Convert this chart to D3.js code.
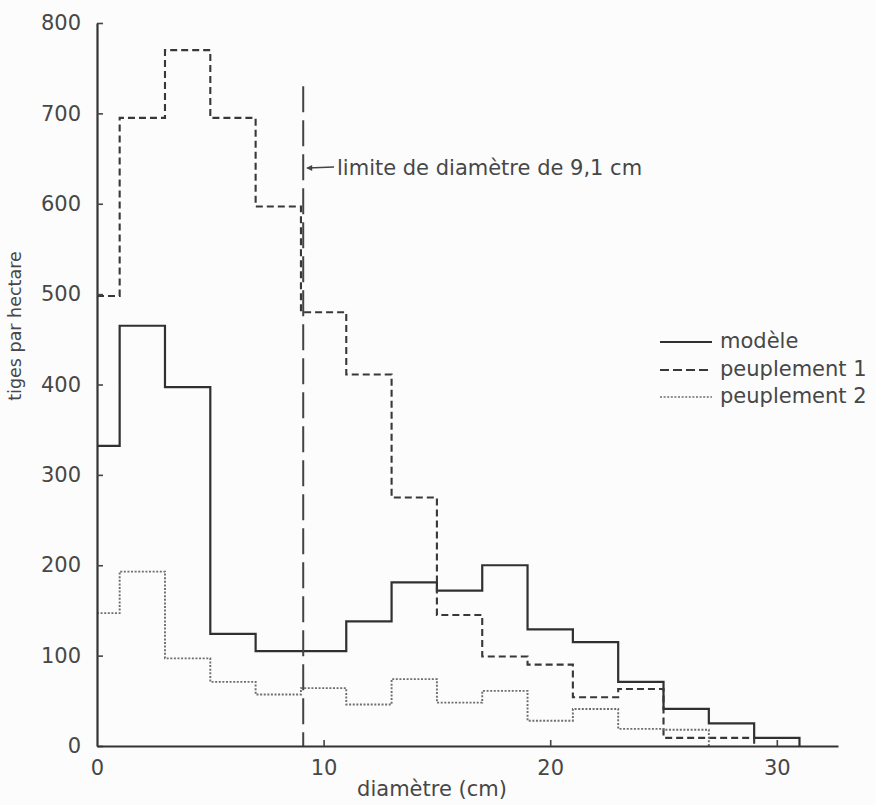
<!DOCTYPE html>
<html>
<head>
<meta charset="utf-8">
<script src="https://cdn.jsdelivr.net/npm/d3@7"></script>
<style>
  html, body { margin: 0; padding: 0; background: #fcfcfc; }
  svg { display: block; font-family: "DejaVu Sans", sans-serif; }
</style>
</head>
<body>
<svg id="chart" width="876" height="805"></svg>
<script>
// Diameter class edges (cm): a half class 0-1, then 2 cm classes
const classEdges = [0, 1, 3, 5, 7, 9, 11, 13, 15, 17, 19, 21, 23, 25, 27, 29, 31];

// Stems per hectare in each class
const modele      = [332, 465, 397, 124, 105, 105, 138, 181, 172, 200, 129, 115, 71, 41, 25, 9];
const peuplement1 = [498, 695, 770, 695, 597, 480, 411, 275, 145, 99, 90, 54, 63, 9, 9];
const peuplement2 = [147, 193, 97, 71, 57, 64, 46, 74, 48, 61, 28, 41, 19, 18];

const xTicks = [0, 10, 20, 30];
const yTicks = [0, 100, 200, 300, 400, 500, 600, 700, 800];

const diameterLimit = 9.1;      // cm
const limitLineTop = 730;       // stems/ha, top of the limit line

const seriesList = [
  { name: "modèle",       values: modele,      dash: null,      color: "#303030", width: 2.2 },
  { name: "peuplement 1", values: peuplement1, dash: "7,4",     color: "#383838", width: 2.1 },
  { name: "peuplement 2", values: peuplement2, dash: "2,1.6",   color: "#6e6e6e", width: 1.9 }
];

const svg = d3.select("#chart");
const textColor = "#474747";

const x = d3.scaleLinear().domain([0, 32.7]).range([97, 838]);
const y = d3.scaleLinear().domain([0, 800]).range([746, 23]);

// Step outline of each distribution, closed down to zero at its last edge
const step = d3.line()
  .x(d => x(d[0]))
  .y(d => y(d[1]))
  .curve(d3.curveStepAfter);

seriesList.forEach(s => {
  const pts = s.values.map((v, i) => [classEdges[i], v]);
  pts.push([classEdges[s.values.length], 0]);
  svg.append("path")
    .attr("d", step(pts))
    .attr("fill", "none")
    .attr("stroke", s.color)
    .attr("stroke-width", s.width)
    .attr("stroke-dasharray", s.dash);
});

// Diameter limit line
svg.append("line")
  .attr("x1", x(diameterLimit)).attr("x2", x(diameterLimit))
  .attr("y1", y(limitLineTop)).attr("y2", y(0))
  .attr("stroke", "#444")
  .attr("stroke-width", 2)
  .attr("stroke-dasharray", "26,8");

// Axes
const yAxis = svg.append("g")
  .attr("transform", `translate(${x(0)},0)`)
  .call(d3.axisLeft(y).tickValues(yTicks).tickSizeInner(-6).tickSizeOuter(0).tickPadding(16));

const xAxis = svg.append("g")
  .attr("transform", `translate(0,${y(0)})`)
  .call(d3.axisBottom(x).tickValues(xTicks).tickSizeInner(-6).tickSizeOuter(0).tickPadding(14));

[yAxis, xAxis].forEach(g => {
  g.select(".domain").attr("stroke", "#333").attr("stroke-width", 2.2);
  g.selectAll(".tick line").attr("stroke", "#444").attr("stroke-width", 1.6);
  g.selectAll(".tick text")
    .attr("fill", textColor)
    .style("font-size", "21px")
    .style("font-family", "DejaVu Sans, sans-serif");
});
xAxis.selectAll(".tick").filter(d => d === 0).select("line").remove();

// Axis titles
svg.append("text")
  .attr("x", 432).attr("y", 796)
  .attr("text-anchor", "middle")
  .attr("fill", textColor)
  .style("font-size", "21px")
  .text("diamètre (cm)");

svg.append("text")
  .attr("transform", "translate(21,326) rotate(-90)")
  .attr("text-anchor", "middle")
  .attr("fill", textColor)
  .style("font-size", "17.5px")
  .text("tiges par hectare");

// Annotation of the limit line
const annY = 168;
svg.append("line")
  .attr("x1", x(diameterLimit) + 4).attr("x2", 334)
  .attr("y1", annY).attr("y2", annY - 1)
  .attr("stroke", "#444").attr("stroke-width", 1.6);
svg.append("path")
  .attr("d", `M${x(diameterLimit) + 3},${annY} l6,-3 l0,6 z`)
  .attr("fill", "#444");
svg.append("text")
  .attr("x", 337).attr("y", annY + 7)
  .attr("fill", textColor)
  .style("font-size", "21px")
  .text("limite de diamètre de 9,1 cm");

// Legend
const legendRows = [342, 370, 397];
seriesList.forEach((s, i) => {
  const ly = legendRows[i];
  svg.append("line")
    .attr("x1", 660).attr("x2", 712)
    .attr("y1", ly).attr("y2", ly)
    .attr("stroke", s.color)
    .attr("stroke-width", s.width - 0.3)
    .attr("stroke-dasharray", s.dash ? (i === 1 ? "9,4" : s.dash) : null);
  svg.append("text")
    .attr("x", 720).attr("y", ly + 6)
    .attr("fill", textColor)
    .style("font-size", "21px")
    .text(s.name);
});
</script>
</body>
</html>
